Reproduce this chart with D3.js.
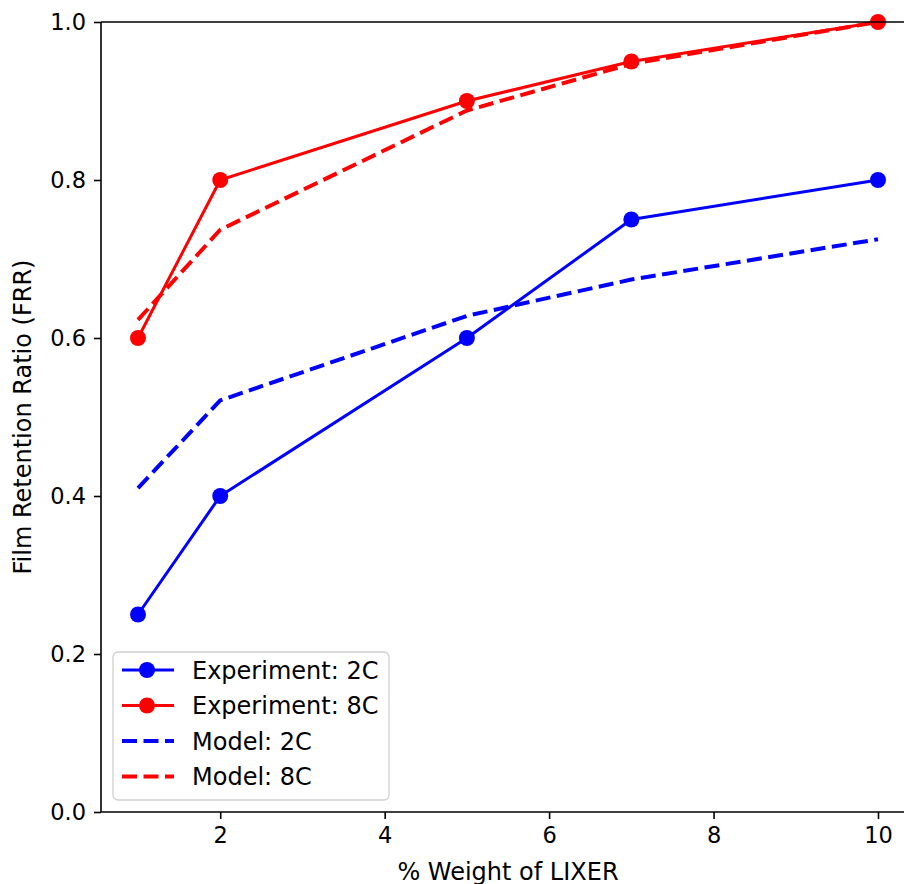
<!DOCTYPE html>
<html>
<head>
<meta charset="utf-8">
<script src="https://cdn.jsdelivr.net/npm/d3@7"></script>
<style>
  body { margin: 0; background: #fff; }
  svg { display: block; font-family: "DejaVu Sans", sans-serif; }
</style>
</head>
<body>
<svg id="chart" width="904" height="884"></svg>
<script>
// data
const weights = [1, 2, 5, 7, 10];
const exp2C = [0.25, 0.40, 0.60, 0.75, 0.80];
const exp8C = [0.60, 0.80, 0.90, 0.95, 1.00];
const model2C = [0.41, 0.521, 0.628, 0.674, 0.725];
const model8C = [0.623, 0.737, 0.888, 0.947, 1.00];
const xTicks = [2, 4, 6, 8, 10];
const yTicks = [0, 0.2, 0.4, 0.6, 0.8, 1.0];

const series = [
    { label: "Experiment: 2C", values: exp2C, color: "#0000ff", dashed: false },
    { label: "Experiment: 8C", values: exp8C, color: "#ff0000", dashed: false },
    { label: "Model: 2C", values: model2C, color: "#0000ff", dashed: true },
    { label: "Model: 8C", values: model8C, color: "#ff0000", dashed: true },
];

const svg = d3.select("#chart");
const plotL = 101, plotR = 915, plotT = 22, plotB = 812;

const x = d3.scaleLinear().domain([0.55, 10.45]).range([plotL, plotR]);
const y = d3.scaleLinear().domain([0, 1]).range([plotB, plotT]);

const line = vals => d3.line()
    .x((d, i) => x(weights[i]))
    .y(d => y(d))(vals);

// lines
series.forEach(s => {
    svg.append("path")
        .attr("d", line(s.values))
        .attr("fill", "none")
        .attr("stroke", s.color)
        .attr("stroke-width", s.dashed ? 4 : 3)
        .attr("stroke-dasharray", s.dashed ? "15,6.5" : null)
        .attr("stroke-linecap", "butt")
        .attr("stroke-linejoin", "round");
    if (!s.dashed) {
        svg.append("g").selectAll("circle")
            .data(s.values)
            .enter()
            .append("circle")
            .attr("cx", (d, i) => x(weights[i]))
            .attr("cy", d => y(d))
            .attr("r", 8)
            .attr("fill", s.color);
    }
});

// axes
const xAxis = svg.append("g")
    .attr("transform", `translate(0,${plotB})`)
    .call(d3.axisBottom(x).tickValues(xTicks).tickFormat(d3.format("d")).tickSize(7).tickPadding(8));
const yAxis = svg.append("g")
    .attr("transform", `translate(${plotL},0)`)
    .call(d3.axisLeft(y).tickValues(yTicks).tickFormat(d3.format(".1f")).tickSize(7).tickPadding(8));

[xAxis, yAxis].forEach(a => {
    a.select(".domain").remove();
    a.selectAll("line").attr("stroke", "#000").attr("stroke-width", 1.6);
    a.selectAll("text").attr("font-size", 22.5).attr("fill", "#000")
        .attr("font-family", "DejaVu Sans");
});

// spines
svg.append("line").attr("x1", plotL).attr("x2", plotL).attr("y1", plotT).attr("y2", plotB)
    .attr("stroke", "#000").attr("stroke-width", 1.6);
svg.append("line").attr("x1", plotL).attr("x2", plotR).attr("y1", plotB).attr("y2", plotB)
    .attr("stroke", "#000").attr("stroke-width", 1.6);
svg.append("line").attr("x1", plotL).attr("x2", plotR).attr("y1", plotT).attr("y2", plotT)
    .attr("stroke", "#000").attr("stroke-width", 1.6);

// axis labels (the x label runs off the bottom edge, as in the reference)
svg.append("text")
    .attr("x", (plotL + plotR) / 2)
    .attr("y", 880)
    .attr("text-anchor", "middle")
    .attr("font-size", 24)
    .text("% Weight of LIXER");
svg.append("text")
    .attr("transform", `translate(31,${(plotT + plotB) / 2}) rotate(-90)`)
    .attr("text-anchor", "middle")
    .attr("font-size", 24)
    .text("Film Retention Ratio (FRR)");

// legend
const legend = svg.append("g").attr("transform", "translate(113,652)");
legend.append("rect")
    .attr("width", 276).attr("height", 148)
    .attr("rx", 5)
    .attr("fill", "#fff").attr("fill-opacity", 0.8)
    .attr("stroke", "#d0d0d0").attr("stroke-width", 1.3);

series.forEach((s, i) => {
    const row = legend.append("g").attr("transform", `translate(0,${18 + i * 35.5})`);
    row.append("line")
        .attr("x1", 9).attr("x2", 61)
        .attr("stroke", s.color)
        .attr("stroke-width", s.dashed ? 4 : 3)
        .attr("stroke-dasharray", s.dashed ? "15,6.5" : null);
    if (!s.dashed) {
        row.append("circle").attr("cx", 34).attr("r", 8).attr("fill", s.color);
    }
    row.append("text")
        .attr("x", 79).attr("y", 8.5)
        .attr("font-size", 24)
        .text(s.label);
});
</script>
</body>
</html>
